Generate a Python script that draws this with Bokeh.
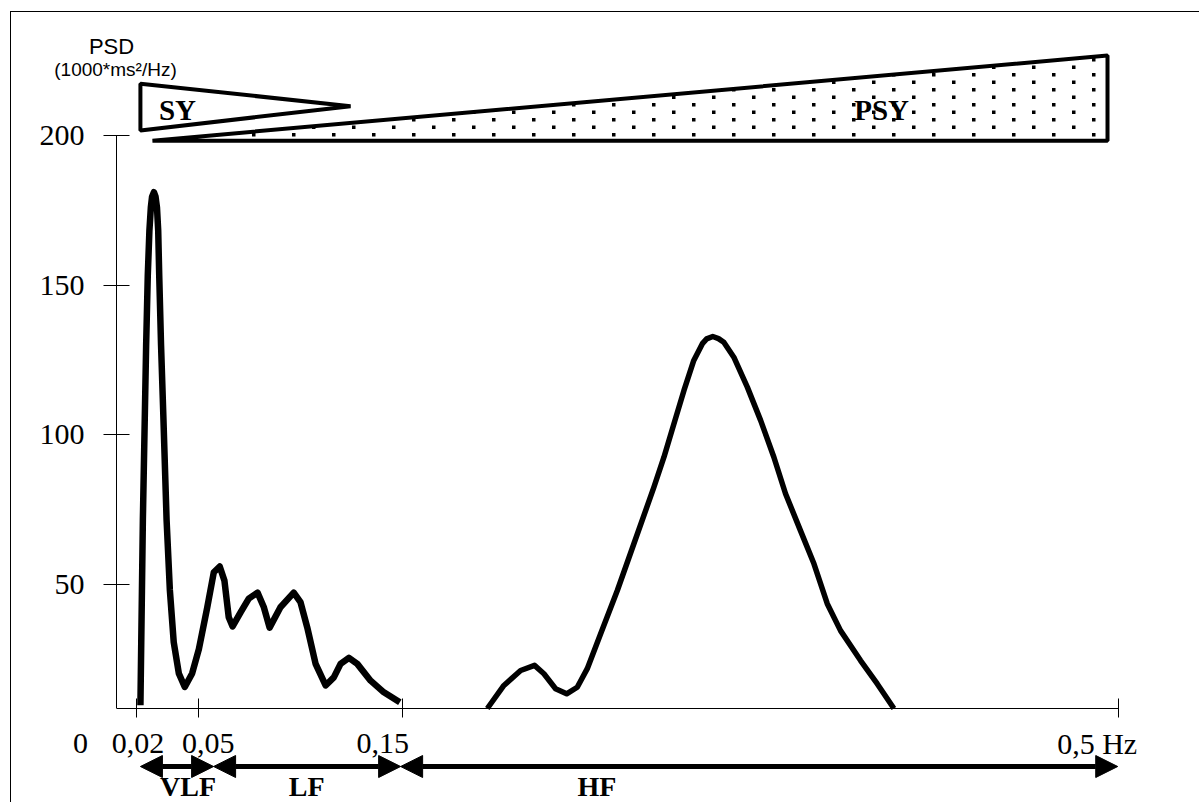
from urllib.parse import quote

from bokeh.plotting import figure
from bokeh.models import Range1d, FixedTicker, Arrow, NormalHead, ImageURLTexture
from bokeh.core.properties import value
from bokeh.embed import file_html
from bokeh.resources import INLINE

# ---- spectrum (frequency in Hz, power in 1000*ms^2/Hz) ----
# very-low and low frequency components
lf_freq = [0.0217, 0.0229, 0.0245, 0.0253, 0.0261, 0.0268, 0.0274, 0.0283,
           0.0291, 0.0298, 0.0304, 0.0309, 0.0318, 0.0329, 0.0345, 0.0361,
           0.0380, 0.0405, 0.0434, 0.0470, 0.0503, 0.0544, 0.0576, 0.0605,
           0.0628, 0.0649, 0.0668, 0.0707, 0.0747, 0.0790, 0.0821, 0.0849,
           0.0902, 0.0967, 0.1000, 0.1033, 0.1074, 0.1123, 0.1163, 0.1196,
           0.1237, 0.1278, 0.1343, 0.1408, 0.1486]
lf_psd = [9.7, 71.6, 129.9, 153.2, 168.2, 175.9, 179.5, 181.0,
          179.5, 175.9, 168.2, 153.2, 129.8, 106.6, 71.6, 48.2,
          30.7, 20.3, 15.8, 20.3, 28.4, 42.4, 54.1, 56.0,
          51.3, 39.1, 36.0, 40.7, 45.3, 47.3, 42.4, 35.6,
          42.4, 47.3, 44.1, 35.7, 23.5, 16.3, 19.0, 23.5,
          25.5, 23.5, 17.9, 14.0, 10.7]

# high frequency (respiratory) component
hf_freq = [0.1914, 0.1995, 0.2077, 0.2145, 0.2191, 0.2248, 0.2302, 0.2354,
           0.2403, 0.2468, 0.2550, 0.2631, 0.2729, 0.2778, 0.2827, 0.2876,
           0.2924, 0.2966, 0.2987, 0.3017, 0.3045, 0.3071, 0.3120, 0.3186,
           0.3251, 0.3316, 0.3373, 0.3446, 0.3512, 0.3577, 0.3642, 0.3740,
           0.3822, 0.3903]
hf_psd = [8.6, 16.3, 21.3, 23.0, 20.2, 15.2, 13.5, 15.7,
          21.9, 33.5, 48.0, 63.6, 82.5, 92.5, 103.7, 114.8,
          124.8, 130.4, 132.0, 132.8, 132.1, 130.9, 125.9, 115.9,
          104.8, 92.5, 80.3, 68.0, 56.9, 43.6, 34.6, 24.6,
          16.8, 8.6]

# axes
y_ticks = [50, 100, 150, 200]
x_ticks = [0.02, 0.05, 0.15, 0.5]
x_tick_labels = ["0,02", "0,05", "0,15", "0,5 Hz"]

# frequency bands
band_edges = [0.0217, 0.0575, 0.149, 0.4998]
band_names = ["VLF", "LF", "HF"]
band_label_freq = [0.045, 0.103, 0.245]

# sympathetic (SY) and parasympathetic (PSY) influence wedges
sy_freq = [0.0217, 0.0217, 0.1245]
sy_level = [217.2, 201.6, 209.7]
psy_freq = [0.0276, 0.4948, 0.4948]
psy_level = [198.2, 198.2, 226.6]
wedge_names = ["SY", "PSY"]
wedge_label_freq = [0.0398, 0.3843]
wedge_label_level = [208.3, 208.3]

Y_AXIS_MIN = 8.6          # where the frequency axis crosses
Y_VIEW = (-23.12, 231.97)
X_MIN, X_MAX = 0.01, 0.5036
SERIF = "Liberation Serif"
SANS = "Liberation Sans"

# staggered square-dot texture for the parasympathetic wedge
dot_tile = ("<svg xmlns='http://www.w3.org/2000/svg' width='40' height='15'>"
            "<rect x='1' y='1' width='3.5' height='3.5' fill='black'/>"
            "<rect x='21' y='8.5' width='3.5' height='3.5' fill='black'/>"
            "</svg>")
dot_texture = ImageURLTexture(url="data:image/svg+xml;charset=utf-8," + quote(dot_tile),
                              repetition="repeat")

p = figure(width=1189, height=791,
           x_range=Range1d(X_MIN, X_MAX), y_range=Range1d(*Y_VIEW),
           x_axis_location="above",
           output_backend="svg", toolbar_location=None,
           min_border_left=105, min_border_right=75,
           min_border_top=27, min_border_bottom=0,
           margin=(11, 0, 0, 10),
           styles={"border-top": "1px solid #000", "border-left": "1px solid #000"})
p.outline_line_color = None
p.grid.visible = False
p.background_fill_color = "white"
p.border_fill_color = "white"

# y axis: stops at 200, ticks cross the axis line
ya = p.yaxis[0]
ya.ticker = FixedTicker(ticks=y_ticks)
ya.bounds = (Y_AXIS_MIN, 200)
ya.major_tick_in = 13
ya.major_tick_out = 13
ya.minor_tick_line_color = None
ya.axis_line_color = "black"
ya.major_tick_line_color = "black"
ya.major_label_text_font = SERIF
ya.major_label_text_font_size = "30px"
ya.major_label_text_color = "black"
ya.major_label_standoff = 19

# frequency axis, pinned at its crossing level; labels are drawn separately
xa = p.xaxis[0]
xa.fixed_location = Y_AXIS_MIN
xa.ticker = FixedTicker(ticks=x_ticks)
xa.bounds = (X_MIN, 0.5)
xa.major_tick_out = 10
xa.major_tick_in = 9
xa.minor_tick_line_color = None
xa.axis_line_color = "black"
xa.major_tick_line_color = "black"
xa.major_label_overrides = {t: "" for t in x_ticks}
xa.major_label_text_font_size = "0px"
xa.major_label_standoff = 0

# wedges
p.patch(psy_freq, psy_level, fill_color="white", line_color="black", line_width=4,
        hatch_pattern="dots", hatch_extra={"dots": dot_texture})
p.patch(sy_freq, sy_level, fill_color="white", line_color="black", line_width=4)
p.text(x=wedge_label_freq, y=wedge_label_level, text=wedge_names,
       text_font=value(SERIF), text_font_style="bold", text_font_size="29px",
       text_color="black", text_align="center", text_baseline="middle")

# spectrum
p.line(lf_freq, lf_psd, line_width=6.5, line_color="black", line_join="round")
p.line(hf_freq, hf_psd, line_width=5.5, line_color="black", line_join="round")

# unit caption
p.text(x=[X_MIN], y=[229.6], text=["PSD"], x_offset=-5,
       text_font=value(SANS), text_font_size="22px", text_color="black",
       text_align="center", text_baseline="middle", level="overlay")
p.text(x=[X_MIN], y=[221.8], text=["(1000*ms²/Hz)"], x_offset=-1,
       text_font=value(SANS), text_font_size="19px", text_color="black",
       text_align="center", text_baseline="middle", level="overlay")

# frequency tick labels
label_shift = [1, 10, -20, -21]
for t, lab, dx in zip(x_ticks, x_tick_labels, label_shift):
    p.text(x=[t], y=[Y_AXIS_MIN], text=[lab], x_offset=dx, y_offset=35,
           text_font=value(SERIF), text_font_size="30px", text_color="black",
           text_align="center", text_baseline="middle", level="overlay")
p.text(x=[X_MIN], y=[Y_AXIS_MIN], text=["0"], x_offset=-36, y_offset=35,
       text_font=value(SERIF), text_font_size="30px", text_color="black",
       text_align="center", text_baseline="middle", level="overlay")

# band arrows and names
band_y = -10.77
for a, b in zip(band_edges[:-1], band_edges[1:]):
    p.add_layout(Arrow(x_start=a, y_start=band_y, x_end=b, y_end=band_y,
                       line_width=5, line_color="black",
                       start=NormalHead(size=22, fill_color="black", line_color="black"),
                       end=NormalHead(size=22, fill_color="black", line_color="black")))
p.text(x=band_label_freq, y=[-17.3] * 3, text=band_names,
       text_font=value(SERIF), text_font_style="bold", text_font_size="28px",
       text_color="black", text_align="center", text_baseline="middle")

open("out.html", "w").write(file_html(p, INLINE))
